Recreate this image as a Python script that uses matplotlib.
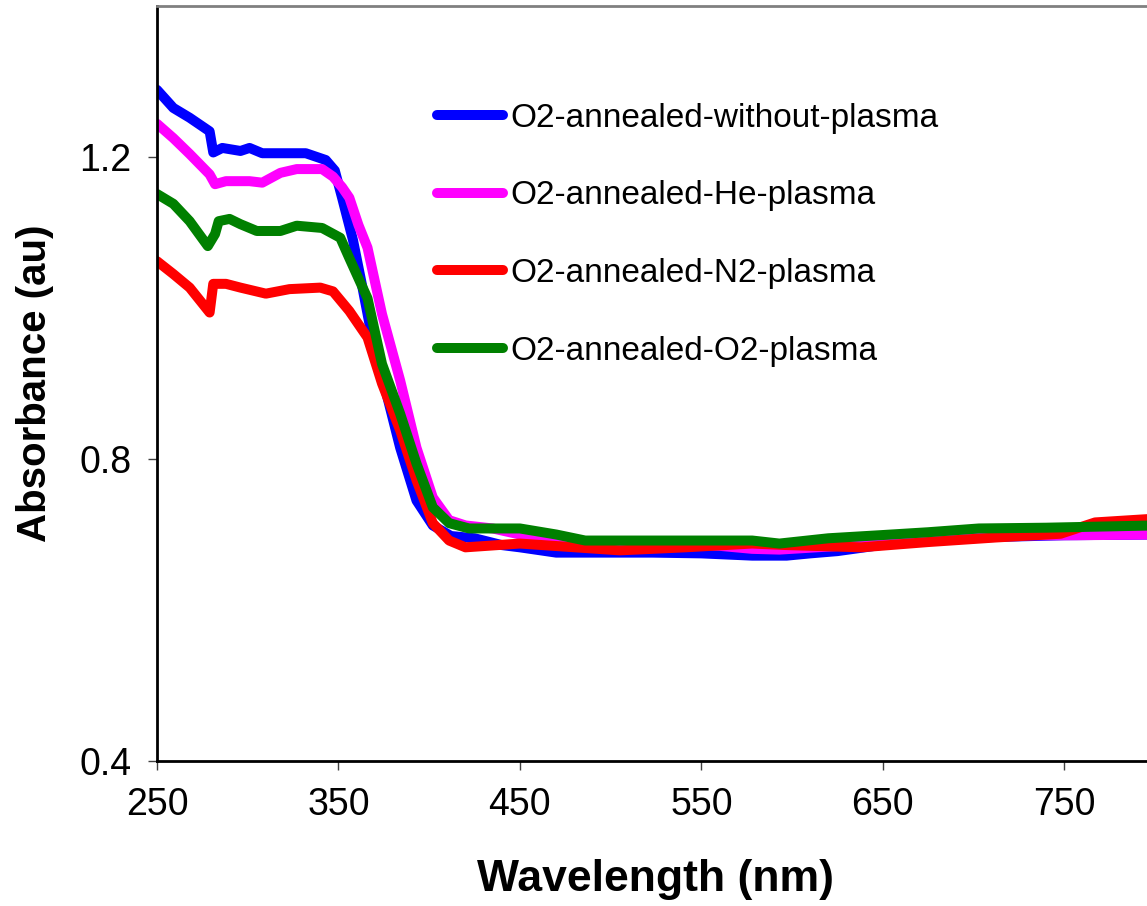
import matplotlib
matplotlib.use('Agg')
import matplotlib.pyplot as plt

wl_blue = [250, 259, 268, 279, 281, 286, 296, 301, 308, 332, 343, 348, 352, 358, 363, 367,
           374, 384, 393, 402, 412, 425, 440, 450, 470, 523, 550, 578, 597, 610, 625, 640,
           660, 700, 750, 800]
abs_blue = [1.289, 1.265, 1.252, 1.234, 1.206, 1.212, 1.208, 1.212, 1.205, 1.205, 1.196, 1.182,
            1.146, 1.09, 1.03, 0.98, 0.91, 0.815, 0.745, 0.712, 0.698, 0.695, 0.686, 0.683,
            0.676, 0.676, 0.675, 0.672, 0.672, 0.675, 0.678, 0.683, 0.69, 0.696, 0.699, 0.70]

wl_he = [250, 259, 268, 279, 282, 288, 301, 308, 318, 327, 341, 347, 352, 356, 361, 366, 374,
         384, 393, 402, 411, 420, 435, 450, 480, 520, 560, 578, 593, 620, 660, 700, 721, 757, 800]
abs_he = [1.244, 1.225, 1.204, 1.177, 1.164, 1.168, 1.168, 1.166, 1.179, 1.184, 1.184, 1.174,
          1.16, 1.146, 1.11, 1.08, 0.992, 0.904, 0.815, 0.749, 0.719, 0.712, 0.708, 0.70, 0.69,
          0.688, 0.685, 0.681, 0.68, 0.684, 0.69, 0.695, 0.699, 0.699, 0.70]

wl_n2 = [250, 259, 268, 279, 281, 288, 296, 310, 323, 340, 347, 356, 366, 374, 384, 393, 402,
         411, 420, 450, 505, 541, 578, 597, 638, 675, 712, 748, 767, 800]
abs_n2 = [1.062, 1.045, 1.027, 0.994, 1.032, 1.032, 1.027, 1.019, 1.025, 1.027, 1.022, 0.996,
          0.961, 0.90, 0.838, 0.772, 0.715, 0.692, 0.683, 0.688, 0.679, 0.683, 0.688, 0.686,
          0.683, 0.69, 0.696, 0.701, 0.716, 0.721]

wl_o2 = [250, 259, 268, 278, 282, 284, 290, 296, 305, 318, 327, 341, 351, 356, 366, 374, 384,
         393, 402, 411, 422, 450, 470, 486, 540, 578, 593, 620, 648, 675, 703, 740, 800]
abs_o2 = [1.151, 1.138, 1.115, 1.082, 1.098, 1.115, 1.118, 1.111, 1.102, 1.102, 1.109, 1.106,
          1.093, 1.066, 1.013, 0.926, 0.86, 0.794, 0.736, 0.715, 0.708, 0.708, 0.70, 0.692,
          0.692, 0.692, 0.688, 0.695, 0.699, 0.703, 0.708, 0.709, 0.712]

labels = ['O2-annealed-without-plasma', 'O2-annealed-He-plasma',
          'O2-annealed-N2-plasma', 'O2-annealed-O2-plasma']
colors = ['#0000ff', '#ff00ff', '#ff0000', '#008000']

plt.rcParams['font.family'] = ['Liberation Sans', 'DejaVu Sans']

fig = plt.figure(figsize=(11.47, 9.06), dpi=100)
ax = fig.add_axes([157 / 1147, 1 - 761 / 906, (1155 - 157) / 1147, (761 - 6) / 906])

series = [(wl_blue, abs_blue), (wl_he, abs_he), (wl_n2, abs_n2), (wl_o2, abs_o2)]
for (x, y), lab, c in zip(series, labels, colors):
    ax.plot(x, y, color=c, lw=7.2, label=lab, solid_capstyle='round', solid_joinstyle='round')

ax.set_xlim(250, 800)
ax.set_ylim(0.4, 1.4)
ax.set_xticks([250, 350, 450, 550, 650, 750])
ax.set_yticks([0.4, 0.8, 1.2])
ax.set_yticklabels(['0.4', '0.8', '1.2'])

ax.spines['top'].set_color('#808080')
ax.spines['top'].set_linewidth(2)
ax.spines['right'].set_visible(False)
ax.spines['left'].set_linewidth(2)
ax.spines['bottom'].set_linewidth(2)
ax.tick_params(axis='both', direction='out', length=6.5, width=1, color='#404040',
               labelsize=27, pad=12)

ax.set_xlabel('Wavelength (nm)', fontsize=32, fontweight='bold', labelpad=26)
ax.set_ylabel('Absorbance (au)', fontsize=29, fontweight='bold', labelpad=18)

ax.legend(loc='upper left', bbox_to_anchor=(420 / 1147, 1 - 86 / 906),
          bbox_transform=fig.transFigure, frameon=False, borderpad=0,
          handlelength=2.0, handletextpad=0.2, labelspacing=1.4,
          prop={'family': 'Liberation Sans', 'size': 24})

fig.savefig('out.png', dpi=100)
